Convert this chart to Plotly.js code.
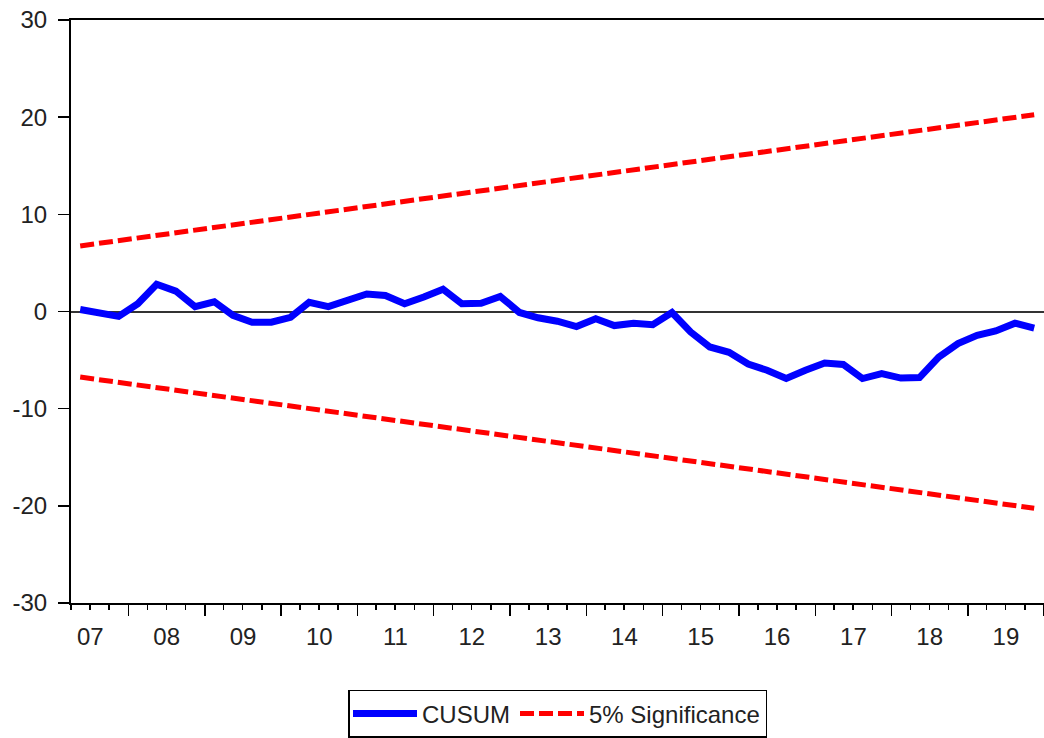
<!DOCTYPE html>
<html>
<head>
<meta charset="utf-8">
<script src="https://cdn.plot.ly/plotly-3.0.1.min.js"></script>
<style>
  html, body { margin: 0; padding: 0; background: #ffffff; }
  #chart { width: 1044px; height: 738px; }
</style>
</head>
<body>
<div id="chart"></div>
<script>
// Quarterly observations 2007Q2 .. 2019Q4
const quarters = [
  "2007Q2","2007Q3","2007Q4","2008Q1","2008Q2","2008Q3","2008Q4",
  "2009Q1","2009Q2","2009Q3","2009Q4","2010Q1","2010Q2","2010Q3","2010Q4",
  "2011Q1","2011Q2","2011Q3","2011Q4","2012Q1","2012Q2","2012Q3","2012Q4",
  "2013Q1","2013Q2","2013Q3","2013Q4","2014Q1","2014Q2","2014Q3","2014Q4",
  "2015Q1","2015Q2","2015Q3","2015Q4","2016Q1","2016Q2","2016Q3","2016Q4",
  "2017Q1","2017Q2","2017Q3","2017Q4","2018Q1","2018Q2","2018Q3","2018Q4",
  "2019Q1","2019Q2","2019Q3","2019Q4"
];

const cusum = [
  0.2, -0.1, -0.5, 0.8, 2.8, 2.1, 0.5,
  1.0, -0.4, -1.1, -1.1, -0.6, 0.95, 0.5, 1.1,
  1.8, 1.65, 0.8, 1.5, 2.3, 0.8, 0.85, 1.55,
  -0.1, -0.65, -1.0, -1.55, -0.75, -1.45, -1.2, -1.35,
  -0.1, -2.1, -3.65, -4.2, -5.4, -6.05, -6.9, -6.05,
  -5.3, -5.45, -6.9, -6.4, -6.85, -6.8, -4.7, -3.3,
  -2.45, -2.0, -1.2, -1.7
];

const upper5 = [
  6.75, 7.02, 7.29, 7.56, 7.83, 8.10, 8.37,
  8.64, 8.91, 9.18, 9.45, 9.72, 9.99, 10.26, 10.53,
  10.80, 11.07, 11.34, 11.61, 11.88, 12.15, 12.42, 12.69,
  12.96, 13.23, 13.50, 13.77, 14.04, 14.31, 14.58, 14.85,
  15.12, 15.39, 15.66, 15.93, 16.20, 16.47, 16.74, 17.01,
  17.28, 17.55, 17.82, 18.09, 18.36, 18.63, 18.90, 19.17,
  19.44, 19.71, 19.98, 20.25
];

const lower5 = [
  -6.75, -7.02, -7.29, -7.56, -7.83, -8.10, -8.37,
  -8.64, -8.91, -9.18, -9.45, -9.72, -9.99, -10.26, -10.53,
  -10.80, -11.07, -11.34, -11.61, -11.88, -12.15, -12.42, -12.69,
  -12.96, -13.23, -13.50, -13.77, -14.04, -14.31, -14.58, -14.85,
  -15.12, -15.39, -15.66, -15.93, -16.20, -16.47, -16.74, -17.01,
  -17.28, -17.55, -17.82, -18.09, -18.36, -18.63, -18.90, -19.17,
  -19.44, -19.71, -19.98, -20.25
];

const seriesNames = ["CUSUM", "5% Significance"];
const yTicks = [-30, -20, -10, 0, 10, 20, 30];
const yTickText = ["-30", "-20", "-10", "0", "10", "20", "30"];

// mid-quarter dates for plotting
function midQuarter(q) {
  const yr = q.slice(0, 4);
  const qn = parseInt(q.slice(5), 10);
  const m = (qn - 1) * 3 + 2;
  return yr + "-" + (m < 10 ? "0" + m : m) + "-15";
}
const xDates = quarters.map(midQuarter);

const FONT = "Liberation Sans, Arial, sans-serif";

const traces = [
  {
    x: xDates, y: cusum, type: "scatter", mode: "lines",
    name: seriesNames[0],
    line: { color: "#0000ff", width: 7 }
  },
  {
    x: xDates, y: upper5, type: "scatter", mode: "lines",
    name: seriesNames[1], legendgroup: "sig",
    line: { color: "#ff0000", width: 5, dash: "14px,5px" }
  },
  {
    x: xDates, y: lower5, type: "scatter", mode: "lines",
    name: seriesNames[1], legendgroup: "sig", showlegend: false,
    line: { color: "#ff0000", width: 5, dash: "14px,5px" }
  }
];

const layout = {
  width: 1044, height: 738,
  margin: { l: 71, r: 0, t: 20, b: 135, autoexpand: false },
  paper_bgcolor: "#ffffff",
  plot_bgcolor: "#ffffff",
  font: { family: FONT, size: 24, color: "#222222" },
  showlegend: true,
  legend: {
    orientation: "h",
    x: 0.5, xanchor: "center",
    y: -0.149, yanchor: "top",
    bordercolor: "#000000", borderwidth: 1.5,
    font: { family: FONT, size: 24, color: "#222222" },
    bgcolor: "#ffffff",
    itemwidth: 64
  },
  xaxis: {
    type: "date",
    range: ["2007-04-01", "2020-01-01"],
    tick0: "2007-01-01",
    dtick: "M12",
    tickformat: "%y",
    ticklabelmode: "period",
    ticks: "outside", ticklen: 11, tickwidth: 1.5, tickcolor: "#000000",
    minor: { dtick: "M3", ticks: "outside", ticklen: 5, tickwidth: 1.5, tickcolor: "#000000", showgrid: false },
    showline: true, linecolor: "#000000", linewidth: 2, mirror: true,
    showgrid: false, zeroline: false,
    automargin: false,
    fixedrange: true
  },
  yaxis: {
    range: [-30, 30],
    tickvals: yTicks,
    ticktext: yTickText,
    ticks: "outside", ticklen: 11, tickwidth: 1.5, tickcolor: "#000000",
    ticklabelstandoff: 6,
    showline: true, linecolor: "#000000", linewidth: 2, mirror: false,
    showgrid: false,
    zeroline: true, zerolinecolor: "#333333", zerolinewidth: 2,
    automargin: false,
    fixedrange: true
  }
};

Plotly.newPlot("chart", traces, layout, { displayModeBar: false, staticPlot: true });
</script>
</body>
</html>
